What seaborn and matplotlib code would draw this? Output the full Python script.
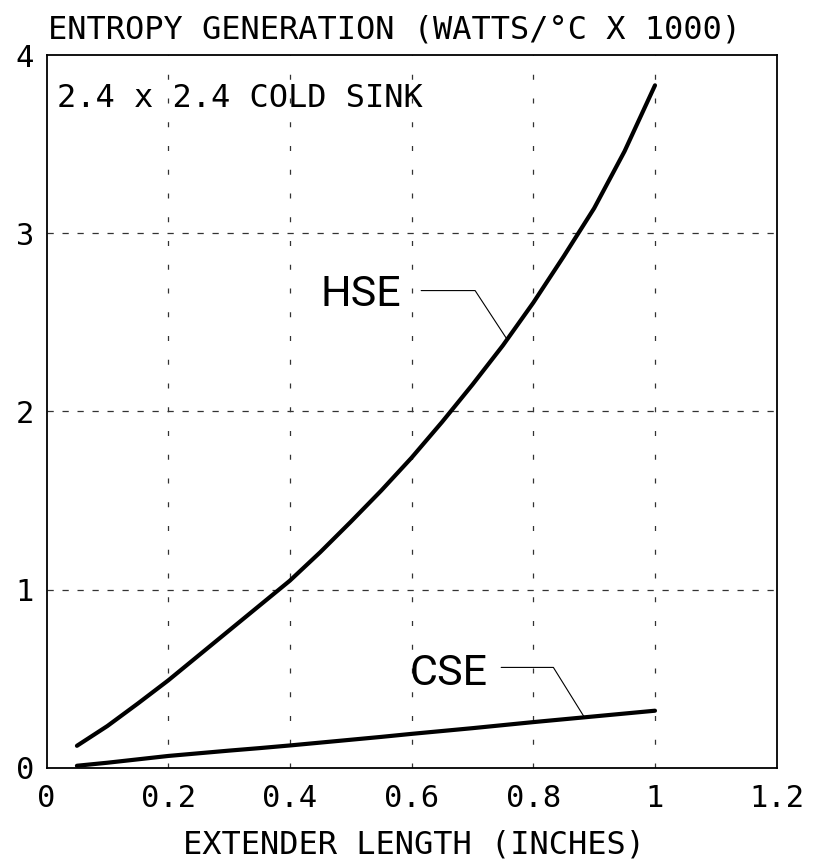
import matplotlib
matplotlib.use("Agg")
import matplotlib.pyplot as plt
import seaborn as sns
import pandas as pd
import numpy as np

# values
ext_len = [0.05, 0.1, 0.15, 0.2, 0.25, 0.3, 0.35, 0.4, 0.45, 0.5, 0.55,
           0.6, 0.65, 0.7, 0.75, 0.8, 0.85, 0.9, 0.95, 1.0]
hse = [0.123, 0.234, 0.36, 0.49, 0.63, 0.77, 0.91, 1.05, 1.21, 1.38, 1.555,
       1.74, 1.94, 2.15, 2.37, 2.61, 2.87, 3.14, 3.46, 3.83]
cse = [0.011, 0.028, 0.047, 0.066, 0.081, 0.096, 0.11, 0.125, 0.141, 0.157, 0.173,
       0.19, 0.206, 0.222, 0.239, 0.256, 0.272, 0.288, 0.304, 0.32]
x_ticks = [0, 0.2, 0.4, 0.6, 0.8, 1.0, 1.2]
x_tick_labels = ["0", "0.2", "0.4", "0.6", "0.8", "1", "1.2"]
y_ticks = [0, 1, 2, 3, 4]

df = pd.DataFrame({"x": ext_len * 2,
                   "y": hse + cse,
                   "curve": ["HSE"] * len(ext_len) + ["CSE"] * len(ext_len)})

sns.set_style("white")
plt.rcParams["font.family"] = ["DejaVu Sans Mono", "DejaVu Sans"]
plt.rcParams["text.color"] = "black"

fig = plt.figure(figsize=(8.26, 8.6), dpi=100)
ax = fig.add_axes([0.0563, 0.1073, 0.884, 0.8287])

sns.lineplot(data=df, x="x", y="y", units="curve", estimator=None,
             color="black", linewidth=3.0, ax=ax, legend=False)

ax.set_xlim(0, 1.2)
ax.set_ylim(0, 4)
ax.set_xticks(x_ticks)
ax.set_xticklabels(x_tick_labels)
ax.set_yticks(y_ticks)
ax.tick_params(length=0, labelsize=22, colors="black")
ax.tick_params(axis="x", pad=12)
ax.tick_params(axis="y", pad=9)
for s in ax.spines.values():
    s.set_color("black")
    s.set_linewidth(1.3)

# dashed grid, different dash for vertical / horizontal lines
for xv in x_ticks[1:-1]:
    ax.axvline(xv, color="#333333", lw=0.9, dashes=(4, 15), zorder=0)
for yv in y_ticks[1:-1]:
    ax.axhline(yv, color="#333333", lw=0.9, dashes=(5, 7), zorder=0)

ax.set_xlabel("")
ax.set_ylabel("")

fig.text(0.0585, 0.9558, "ENTROPY GENERATION (WATTS/°C X 1000)",
         fontsize=23, ha="left", va="baseline")
fig.text(0.501, 0.0081, "EXTENDER LENGTH (INCHES)",
         fontsize=23, ha="center", va="baseline")
ax.text(0.014, 0.927, "2.4 x 2.4 COLD SINK", transform=ax.transAxes,
        fontsize=23, ha="left", va="baseline")

# curve labels with leader lines
hse_end_x = 0.757
cse_end_x = 0.884
ax.text(0.4496, 2.589, "HSE", family="Roboto", fontsize=31, ha="left", va="baseline")
ax.plot([0.6157, 0.7044, hse_end_x], [2.678, 2.678, np.interp(hse_end_x, ext_len, hse)],
        color="black", lw=0.8)
ax.text(0.596, 0.464, "CSE", family="Roboto", fontsize=31, ha="left", va="baseline")
ax.plot([0.7472, 0.833, cse_end_x], [0.563, 0.563, np.interp(cse_end_x, ext_len, cse)],
        color="black", lw=0.8)

fig.savefig("out.png", dpi=100)
